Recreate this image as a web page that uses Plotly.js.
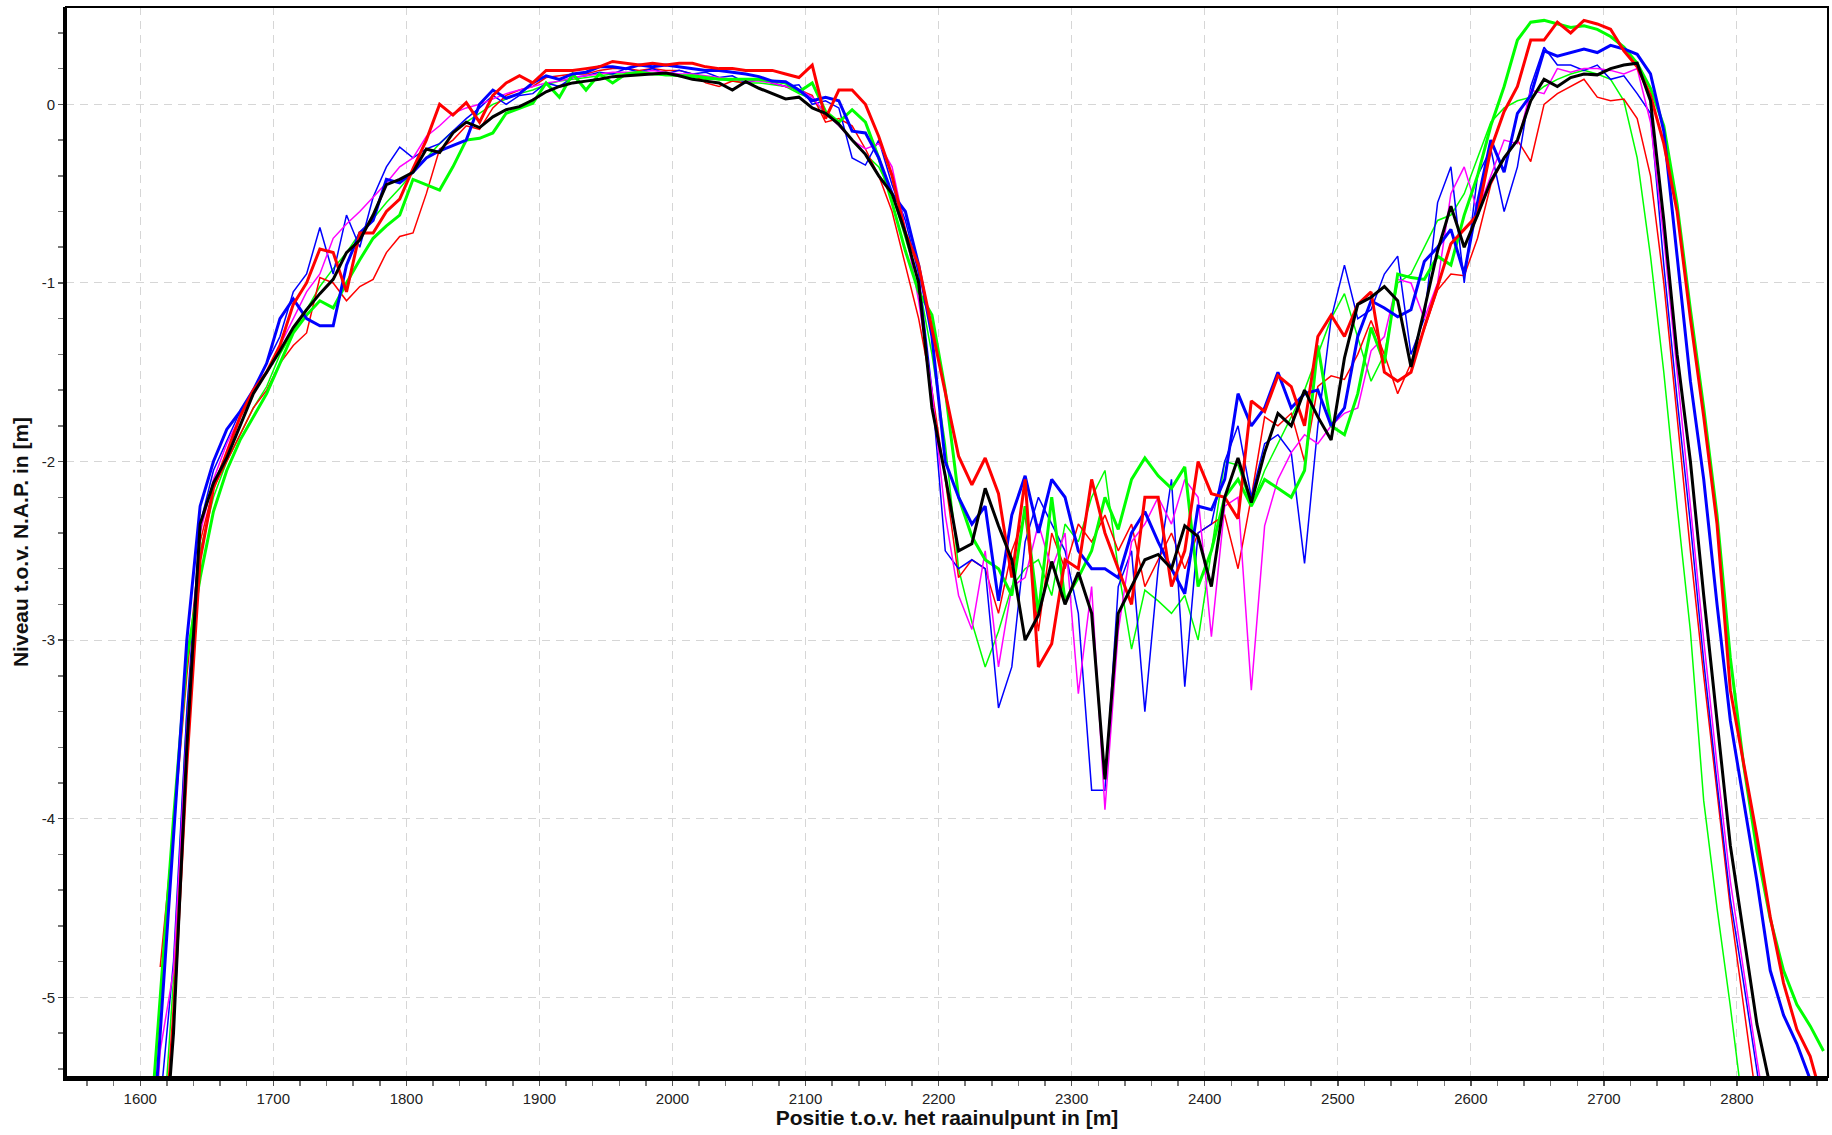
<!DOCTYPE html>
<html>
<head>
<meta charset="utf-8">
<script src="https://cdn.plot.ly/plotly-3.0.1.min.js"></script>
<style>
html,body{margin:0;padding:0;background:#fff;}
#chart{width:1832px;height:1135px;}
</style>
</head>
<body>
<div id="chart"></div>
<script>
// Position along the profile [m]
const positie = [1605,1615,1625,1635,1645,1655,1665,1675,1685,1695,1705,
1715,1725,1735,1745,1755,1765,1775,1785,1795,1805,
1815,1825,1835,1845,1855,1865,1875,1885,1895,1905,
1915,1925,1935,1945,1955,1965,1975,1985,1995,2005,
2015,2025,2035,2045,2055,2065,2075,2085,2095,2105,
2115,2125,2135,2145,2155,2165,2175,2185,2195,2205,
2215,2225,2235,2245,2255,2265,2275,2285,2295,2305,
2315,2325,2335,2345,2355,2365,2375,2385,2395,2405,
2415,2425,2435,2445,2455,2465,2475,2485,2495,2505,
2515,2525,2535,2545,2555,2565,2575,2585,2595,2605,
2615,2625,2635,2645,2655,2665,2675,2685,2695,2705,
2715,2725,2735,2745,2755,2765,2775,2785,2795,2805,
2815,2825,2835,2845,2855,2865];

const rodeDik = [null,-6.2,-5.1,-3.7,-2.55,-2.15,-1.95,-1.75,-1.6,-1.5,-1.35,
-1.12,-1.0,-0.81,-0.83,-1.05,-0.72,-0.72,-0.6,-0.53,-0.36,
-0.2,0.0,-0.06,0.01,-0.1,0.05,0.12,0.16,0.12,0.19,
0.19,0.19,0.2,0.21,0.24,0.23,0.22,0.23,0.22,0.23,
0.23,0.21,0.2,0.2,0.19,0.19,0.19,0.17,0.15,0.22,
-0.08,0.08,0.08,0.0,-0.18,-0.4,-0.72,-0.9,-1.25,-1.6,
-1.97,-2.13,-1.98,-2.18,-2.65,-2.1,-3.15,-3.02,-2.55,-2.6,
-2.1,-2.4,-2.6,-2.8,-2.2,-2.2,-2.7,-2.5,-2.0,-2.18,
-2.2,-2.32,-1.66,-1.72,-1.52,-1.58,-1.8,-1.3,-1.18,-1.3,
-1.12,-1.05,-1.5,-1.55,-1.5,-1.25,-1.02,-0.78,-0.7,-0.62,
-0.25,-0.04,0.1,0.36,0.36,0.46,0.4,0.47,0.45,0.42,
0.3,0.21,0.05,-0.22,-0.6,-1.2,-1.75,-2.35,-3.28,-3.7,
-4.1,-4.55,-4.92,-5.18,-5.33,-5.6];

const blauwDik = [-6.3,-5.2,-4.1,-3.0,-2.25,-2.0,-1.82,-1.72,-1.6,-1.45,-1.2,
-1.09,-1.2,-1.24,-1.24,-0.9,-0.72,-0.65,-0.42,-0.44,-0.38,
-0.3,-0.26,-0.23,-0.2,0.0,0.08,0.034,0.06,0.12,0.16,
0.14,0.17,0.18,0.21,0.21,0.2,0.22,0.21,0.22,0.21,
0.2,0.19,0.19,0.18,0.17,0.155,0.13,0.127,0.08,0.02,
0.04,0.02,-0.15,-0.16,-0.3,-0.5,-0.6,-0.9,-1.3,-2.0,
-2.2,-2.35,-2.25,-2.78,-2.3,-2.08,-2.4,-2.1,-2.2,-2.5,
-2.6,-2.6,-2.65,-2.4,-2.28,-2.45,-2.6,-2.74,-2.25,-2.27,
-2.1,-1.62,-1.8,-1.7,-1.5,-1.7,-1.62,-1.6,-1.8,-1.7,
-1.3,-1.1,-1.14,-1.19,-1.15,-0.88,-0.8,-0.7,-0.95,-0.55,
-0.2,-0.38,-0.05,0.05,0.3,0.27,0.29,0.31,0.29,0.33,
0.31,0.28,0.17,-0.15,-0.85,-1.55,-2.1,-2.8,-3.45,-3.9,
-4.35,-4.85,-5.1,-5.26,-5.46,-5.7];

const zwart = [null,-6.2,-5.2,-3.6,-2.35,-2.12,-1.98,-1.8,-1.62,-1.5,-1.38,
-1.25,-1.15,-1.06,-0.98,-0.83,-0.76,-0.62,-0.45,-0.42,-0.38,
-0.25,-0.27,-0.16,-0.1,-0.13,-0.07,-0.03,-0.013,0.024,0.07,
0.1,0.12,0.13,0.14,0.155,0.16,0.165,0.17,0.175,0.16,
0.14,0.13,0.12,0.08,0.127,0.09,0.06,0.03,0.04,-0.02,
-0.05,-0.11,-0.2,-0.28,-0.4,-0.5,-0.72,-1.0,-1.7,-2.08,
-2.5,-2.46,-2.15,-2.36,-2.55,-3.0,-2.86,-2.56,-2.8,-2.62,
-2.85,-3.78,-2.85,-2.7,-2.55,-2.52,-2.6,-2.36,-2.42,-2.7,
-2.2,-1.98,-2.23,-1.95,-1.73,-1.8,-1.6,-1.75,-1.88,-1.42,
-1.12,-1.08,-1.02,-1.1,-1.47,-1.15,-0.82,-0.57,-0.8,-0.62,
-0.43,-0.3,-0.2,0.02,0.14,0.1,0.15,0.17,0.165,0.2,
0.22,0.23,0.02,-0.65,-1.4,-2.0,-2.75,-3.45,-4.15,-4.65,
-5.15,-5.5,-5.8,null,null,null];

const groenDik = [-6.0,-5.0,-4.0,-3.1,-2.65,-2.28,-2.05,-1.88,-1.75,-1.62,-1.45,
-1.28,-1.18,-1.1,-1.14,-1.0,-0.87,-0.75,-0.68,-0.62,-0.42,
-0.45,-0.48,-0.35,-0.2,-0.19,-0.16,-0.05,-0.02,0.006,0.12,
0.04,0.17,0.08,0.17,0.12,0.17,0.18,0.17,0.17,0.16,
0.16,0.15,0.14,0.14,0.14,0.14,0.13,0.12,0.07,0.12,
-0.04,-0.1,-0.03,-0.1,-0.3,-0.55,-0.82,-1.05,-1.18,-1.6,
-2.2,-2.42,-2.55,-2.6,-2.75,-2.25,-2.85,-2.2,-2.78,-2.65,
-2.5,-2.2,-2.38,-2.1,-1.98,-2.08,-2.15,-2.03,-2.7,-2.5,
-2.2,-2.1,-2.25,-2.1,-2.15,-2.2,-2.05,-1.35,-1.8,-1.85,
-1.62,-1.25,-1.45,-0.95,-0.97,-0.98,-0.85,-0.9,-0.62,-0.4,
-0.12,0.1,0.36,0.46,0.47,0.45,0.43,0.44,0.42,0.38,
0.32,0.23,0.09,-0.12,-0.56,-1.15,-1.7,-2.3,-3.1,-3.7,
-4.18,-4.56,-4.85,-5.04,-5.16,-5.3];

const rodeDun = [null,-4.83,-4.06,-3.2,-2.45,-2.15,-2.0,-1.85,-1.7,-1.6,-1.45,
-1.35,-1.28,-0.97,-1.0,-1.1,-1.02,-0.98,-0.83,-0.74,-0.72,
-0.5,-0.25,-0.2,-0.12,-0.14,-0.02,0.05,0.08,0.1,0.15,
0.16,0.17,0.17,0.19,0.2,0.2,0.19,0.2,0.19,0.19,
0.17,0.12,0.1,0.13,0.12,0.14,0.12,0.1,0.08,0.05,
-0.1,-0.08,-0.12,-0.25,-0.4,-0.6,-0.9,-1.2,-1.6,-2.1,
-2.65,-2.55,-2.6,-2.85,-2.5,-2.3,-2.95,-2.4,-2.6,-2.35,
-2.45,-2.3,-2.5,-2.35,-2.7,-2.55,-2.4,-2.6,-2.4,-2.35,
-2.3,-2.6,-2.2,-1.75,-1.8,-1.73,-2.0,-1.58,-1.52,-1.54,
-1.4,-1.21,-1.4,-1.62,-1.45,-1.26,-1.04,-0.95,-0.96,-0.75,
-0.45,-0.3,-0.2,-0.32,0.0,0.06,0.1,0.14,0.04,0.02,
0.03,-0.08,-0.4,-1.0,-1.75,-2.5,-3.2,-3.85,-4.5,-5.05,
-5.6,null,null,null,null,null];

const blauwDun = [null,-5.6,-4.8,-3.4,-2.35,-2.05,-1.88,-1.72,-1.6,-1.45,-1.3,
-1.05,-0.95,-0.69,-0.95,-0.62,-0.8,-0.52,-0.35,-0.24,-0.3,
-0.25,-0.22,-0.15,-0.08,-0.02,0.05,0.0,0.05,0.06,0.12,
0.1,0.15,0.16,0.18,0.17,0.2,0.18,0.2,0.17,0.19,
0.17,0.18,0.15,0.16,0.12,0.14,0.12,0.1,0.11,0.0,
0.02,-0.02,-0.3,-0.34,-0.2,-0.45,-0.65,-0.95,-1.6,-2.5,
-2.6,-2.55,-2.6,-3.38,-3.15,-2.45,-2.2,-2.35,-2.5,-2.85,
-3.84,-3.84,-2.7,-2.5,-3.4,-2.6,-2.1,-3.26,-2.4,-2.35,
-2.0,-1.8,-2.2,-1.9,-1.85,-1.95,-2.57,-1.8,-1.2,-0.9,
-1.2,-1.15,-0.95,-0.85,-1.4,-1.2,-0.55,-0.35,-1.0,-0.4,
-0.25,-0.6,-0.35,0.1,0.32,0.22,0.22,0.19,0.22,0.14,
0.16,0.06,-0.05,-0.9,-1.65,-2.35,-3.12,-3.8,-4.45,-4.92,
-5.42,-5.9,null,null,null,null];

const magenta = [-6.5,-5.3,-4.85,-3.5,-2.4,-2.1,-1.9,-1.75,-1.6,-1.5,-1.35,
-1.2,-1.05,-0.95,-0.75,-0.67,-0.6,-0.52,-0.44,-0.35,-0.3,
-0.18,-0.12,-0.05,-0.02,0.0,0.03,0.06,0.08,0.1,0.12,
0.13,0.15,0.16,0.17,0.18,0.18,0.18,0.19,0.18,0.17,
0.17,0.16,0.15,0.14,0.13,0.13,0.12,0.1,0.08,0.04,
-0.05,-0.12,-0.2,-0.25,-0.22,-0.35,-0.7,-1.1,-1.6,-2.3,
-2.75,-2.94,-2.5,-3.15,-2.7,-2.65,-2.35,-2.6,-2.4,-3.3,
-2.7,-3.95,-2.95,-2.45,-2.35,-2.2,-2.35,-2.1,-2.2,-2.98,
-2.25,-2.2,-3.28,-2.36,-2.1,-1.95,-1.85,-1.9,-1.8,-1.73,
-1.7,-1.38,-1.3,-0.98,-1.0,-1.2,-1.0,-0.5,-0.35,-0.6,
-0.4,-0.2,-0.22,0.08,0.06,0.2,0.18,0.2,0.2,0.19,
0.17,0.2,-0.1,-0.75,-1.5,-2.25,-3.0,-3.7,-4.35,-4.85,
-5.35,-5.8,null,null,null,null];

const groenDun = [null,-6.0,-4.9,-3.4,-2.5,-2.2,-2.0,-1.85,-1.7,-1.58,-1.4,
-1.27,-1.15,-1.02,-0.92,-0.83,-0.72,-0.64,-0.55,-0.47,-0.38,
-0.3,-0.22,-0.15,-0.1,-0.05,0.0,0.03,0.06,0.08,0.11,
0.13,0.14,0.15,0.16,0.17,0.17,0.17,0.17,0.16,0.16,
0.15,0.14,0.14,0.13,0.12,0.12,0.11,0.1,0.06,0.03,
-0.05,-0.12,-0.2,-0.28,-0.35,-0.5,-0.75,-1.0,-1.4,-1.9,
-2.6,-2.9,-3.15,-2.95,-2.7,-2.6,-2.55,-2.75,-2.35,-2.45,
-2.2,-2.05,-2.6,-3.05,-2.72,-2.78,-2.85,-2.75,-3.0,-2.5,
-2.0,-2.02,-2.25,-2.05,-1.9,-1.75,-1.6,-1.4,-1.2,-1.06,
-1.3,-1.55,-1.4,-1.0,-0.95,-0.8,-0.65,-0.62,-0.5,-0.3,
-0.1,-0.02,0.02,0.04,0.1,0.14,0.17,0.19,0.17,0.14,
0.02,-0.3,-0.85,-1.5,-2.25,-2.95,-3.9,-4.5,-5.05,-5.65,
null,null,null,null,null,null];

const xTickVals = [1600,1700,1800,1900,2000,2100,2200,2300,2400,2500,2600,2700,2800];
const yTickVals = [-5,-4,-3,-2,-1,0];
const yTickText = ["-5","-4","-3","-2","-1","0"];

const series = [
  {y: groenDun, color: "#00ff00", w: 1.5},
  {y: rodeDun, color: "#ff0000", w: 1.5},
  {y: blauwDun, color: "#0000ff", w: 1.5},
  {y: magenta, color: "#ff00ff", w: 1.5},
  {y: groenDik, color: "#00ff00", w: 3},
  {y: blauwDik, color: "#0000ff", w: 3},
  {y: rodeDik, color: "#ff0000", w: 3},
  {y: zwart, color: "#000000", w: 3}
];

const traces = series.map(s => ({
  type: "scatter", mode: "lines", x: positie, y: s.y,
  line: {color: s.color, width: s.w},
  connectgaps: false, showlegend: false, hoverinfo: "skip"
}));

const axisFont = {family: "Liberation Sans, Arial, sans-serif", size: 15, color: "#222"};
const titleFont = {family: "Liberation Sans, Arial, sans-serif", size: 21, color: "#111", weight: "bold"};

const layout = {
  width: 1832, height: 1135,
  margin: {l: 66, r: 4, t: 7, b: 58},
  paper_bgcolor: "#ffffff", plot_bgcolor: "#ffffff",
  showlegend: false, hovermode: false,
  xaxis: {
    range: [1544.2, 2868.4], tickvals: xTickVals,
    showgrid: true, gridcolor: "#d6d6d6", gridwidth: 1, griddash: "8px,6px",
    zeroline: false, showline: true, linecolor: "#000", linewidth: 3.5,
    ticks: "outside", ticklen: 5, tickwidth: 1.5, tickcolor: "#555",
    minor: {dtick: 20, ticks: "outside", ticklen: 5, tickwidth: 1.5, tickcolor: "#777", showgrid: false},
    tickfont: axisFont,
    title: {text: "Positie t.o.v. het raainulpunt in [m]", font: titleFont, standoff: 6}
  },
  yaxis: {
    range: [-5.446, 0.545], tickvals: yTickVals, ticktext: yTickText,
    showgrid: true, gridcolor: "#d6d6d6", gridwidth: 1, griddash: "8px,6px",
    zeroline: false, showline: true, linecolor: "#000", linewidth: 3,
    ticks: "outside", ticklen: 5, tickwidth: 1.5, tickcolor: "#555",
    minor: {dtick: 0.2, tick0: 0, ticks: "outside", ticklen: 5, tickwidth: 1.5, tickcolor: "#777", showgrid: false},
    tickfont: axisFont,
    title: {text: "Niveau t.o.v. N.A.P. in [m]", font: titleFont, standoff: 8}
  },
  shapes: [{type: "rect", xref: "paper", yref: "paper", x0: 0, x1: 1, y0: 0, y1: 1,
            line: {color: "#000", width: 2}, fillcolor: "rgba(0,0,0,0)", layer: "above"}]
};

Plotly.newPlot("chart", traces, layout, {staticPlot: true, displayModeBar: false});
</script>
</body>
</html>
